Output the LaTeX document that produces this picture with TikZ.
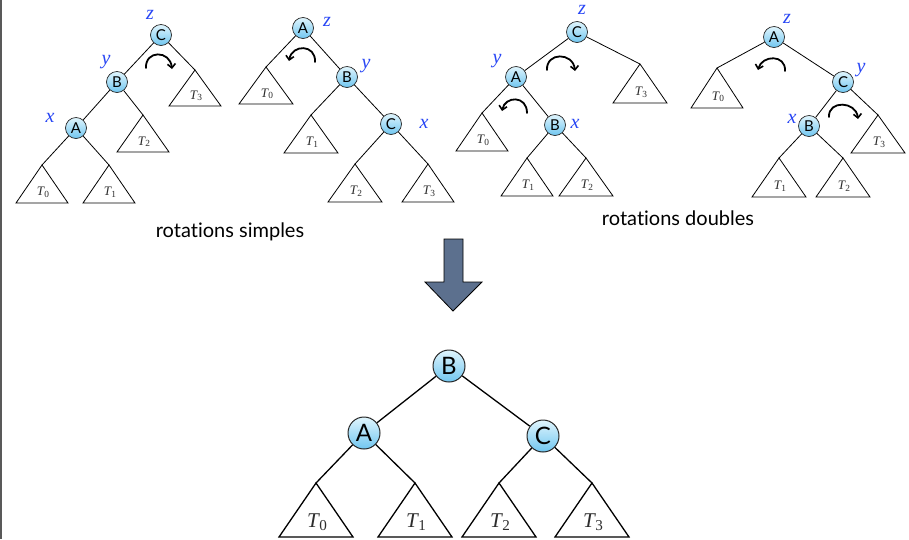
\documentclass[tikz,border=0pt]{standalone}
\usepackage{fontspec}
\setsansfont{Lato}[Ligatures=NoCommon]
\newfontfamily\labelserif{Liberation Serif}
\usetikzlibrary{arrows.meta,calc}

\definecolor{labelblue}{RGB}{40,70,245}
\definecolor{nodetop}{RGB}{224,245,253}
\definecolor{nodebot}{RGB}{112,198,240}
\definecolor{arrowfill}{RGB}{92,112,142}
\definecolor{subtext}{RGB}{45,45,45}

% italic T with an upright numeric index
\newcommand{\Tidx}[1]{{\itshape T}\kern0.02em\raisebox{-0.28ex}{\scalebox{0.72}{#1}}}

\tikzset{
  keynode/.style={circle, draw=black!85, line width=0.7pt, top color=nodetop,
    bottom color=nodebot, inner sep=0pt, minimum size=21pt,
    font=\sffamily\fontsize{15}{15}\selectfont},
  bigkeynode/.style={keynode, minimum size=32pt, line width=1pt,
    font=\sffamily\fontsize{24}{24}\selectfont},
  link/.style={line width=0.8pt},
  biglink/.style={line width=1.3pt},
  tri/.style={line width=0.8pt},
  bigtri/.style={line width=1.3pt},
  smallT/.style={text=subtext, inner sep=0pt, font=\labelserif\fontsize{13}{13}\selectfont},
  bigT/.style={text=subtext, inner sep=0pt, font=\labelserif\fontsize{21}{21}\selectfont},
  role/.style={text=labelblue, inner sep=0pt, font=\labelserif\itshape\fontsize{20}{20}\selectfont},
  spin/.style={line width=1.8pt, line cap=round,
    -{Straight Barb[length=4pt, width=8pt, line width=1.6pt]}},
  capt/.style={anchor=base, inner sep=0pt, font=\sffamily\fontsize{20}{20}\selectfont},
  bigarrow/.style={fill=arrowfill, draw=black, line width=0.8pt},
}

% subtree triangle: name, apex x, apex y, half width, height, line style, label style, index
\newcommand{\subtri}[8]{%
  \coordinate (#1) at (#2,#3);
  \draw[#6] (#1) -- ++(-#4,#5) -- ++(2*#4,0) -- cycle;
  \node[#7] at ($(#1)+(1,0.72*#5)$) {\Tidx{#8}};
}

\begin{document}
\begin{tikzpicture}[x=1pt,y=-1pt]
\useasboundingbox (0,0) rectangle (909,539);
\fill[white] (0,0) rectangle (909,539);
\draw[gray!70!black, line width=2pt] (1,0) -- (1,539);

% ---------- single rotation, left-leaning ----------
\node[keynode] (c1) at (161,35) {C};
\node[keynode] (b1) at (117,82) {B};
\node[keynode] (a1) at (76,128) {A};
\subtri{t10}{42}{165}{26}{38}{tri}{smallT}{0}
\subtri{t11}{109}{165}{26}{38}{tri}{smallT}{1}
\subtri{t12}{143}{115}{26}{37}{tri}{smallT}{2}
\subtri{t13}{195}{70}{26}{36}{tri}{smallT}{3}
\draw[link] (c1) -- (b1);
\draw[link] (c1) -- (t13);
\draw[link] (b1) -- (a1);
\draw[link] (b1) -- (t12);
\draw[link] (a1) -- (t10);
\draw[link] (a1) -- (t11);
\node[role] at (150,15) {z};
\node[role] at (106,62) {y};
\node[role] at (50,118) {x};
\draw[spin] (146,68) .. controls (145,50) and (170,50) .. (172,69);

% ---------- single rotation, right-leaning ----------
\node[keynode] (a2) at (303,28) {A};
\node[keynode] (b2) at (347,77) {B};
\node[keynode] (c2) at (391,124) {C};
\subtri{t20}{266}{67}{27}{37}{tri}{smallT}{0}
\subtri{t21}{311}{115}{27}{38}{tri}{smallT}{1}
\subtri{t22}{355}{164}{27}{38}{tri}{smallT}{2}
\subtri{t23}{428}{164}{26}{38}{tri}{smallT}{3}
\draw[link] (a2) -- (t20);
\draw[link] (a2) -- (b2);
\draw[link] (b2) -- (t21);
\draw[link] (b2) -- (c2);
\draw[link] (c2) -- (t22);
\draw[link] (c2) -- (t23);
\node[role] at (327,22) {z};
\node[role] at (366,66) {y};
\node[role] at (424,124) {x};
\draw[spin] (315,62) .. controls (316,44) and (292,44) .. (289,61);

% ---------- double rotation, left-right ----------
\node[keynode] (c3) at (577,32) {C};
\node[keynode] (a3) at (516,77) {A};
\node[keynode] (b3) at (555,125) {B};
\subtri{t30}{482}{113}{26}{38}{tri}{smallT}{0}
\subtri{t31}{527}{158}{26}{38}{tri}{smallT}{1}
\subtri{t32}{586}{158}{27}{38}{tri}{smallT}{2}
\subtri{t33}{640}{64}{27}{39}{tri}{smallT}{3}
\draw[link] (c3) -- (a3);
\draw[link] (c3) -- (t33);
\draw[link] (a3) -- (t30);
\draw[link] (a3) -- (b3);
\draw[link] (b3) -- (t31);
\draw[link] (b3) -- (t32);
\node[role] at (582,10) {z};
\node[role] at (497,61) {y};
\node[role] at (575,124) {x};
\draw[spin] (547,70) .. controls (546,52) and (573,52) .. (575,71);
\draw[spin] (527,113) .. controls (527,95) and (505,96) .. (502,111);

% ---------- double rotation, right-left ----------
\node[keynode] (a4) at (774,37) {A};
\node[keynode] (c4) at (843,82) {C};
\node[keynode] (b4) at (809,126) {B};
\subtri{t40}{717}{68}{26}{40}{tri}{smallT}{0}
\subtri{t41}{779}{158}{27}{39}{tri}{smallT}{1}
\subtri{t42}{843}{158}{27}{39}{tri}{smallT}{2}
\subtri{t43}{878}{115}{27}{38}{tri}{smallT}{3}
\draw[link] (a4) -- (t40);
\draw[link] (a4) -- (c4);
\draw[link] (c4) -- (b4);
\draw[link] (c4) -- (t43);
\draw[link] (b4) -- (t41);
\draw[link] (b4) -- (t42);
\node[role] at (787,19) {z};
\node[role] at (861,70) {y};
\node[role] at (792,119) {x};
\draw[spin] (785,71) .. controls (786,54) and (762,55) .. (758,70);
\draw[spin] (829,117) .. controls (828,100) and (856,101) .. (858,119);

% ---------- captions ----------
\node[capt] (cs) at (230,237) {rotations simples};
\node[capt] (cd) at (678,225) {rotations doubles};

% ---------- transition arrow ----------
\draw[bigarrow] (444,239) -- (463,239) -- (463,282) -- (482,282) -- (453,311)
  -- (425,282) -- (444,282) -- cycle;

% ---------- balanced result ----------
\node[bigkeynode] (bb) at (449,366) {B};
\node[bigkeynode] (ab) at (364,433) {A};
\node[bigkeynode] (cb) at (543,436) {C};
\subtri{tb0}{316}{483}{37}{54}{bigtri}{bigT}{0}
\subtri{tb1}{415}{483}{37}{54}{bigtri}{bigT}{1}
\subtri{tb2}{499}{483}{37}{54}{bigtri}{bigT}{2}
\subtri{tb3}{592}{483}{37}{54}{bigtri}{bigT}{3}
\draw[biglink] (bb) -- (ab);
\draw[biglink] (bb) -- (cb);
\draw[biglink] (ab) -- (tb0);
\draw[biglink] (ab) -- (tb1);
\draw[biglink] (cb) -- (tb2);
\draw[biglink] (cb) -- (tb3);
\end{tikzpicture}
\end{document}
